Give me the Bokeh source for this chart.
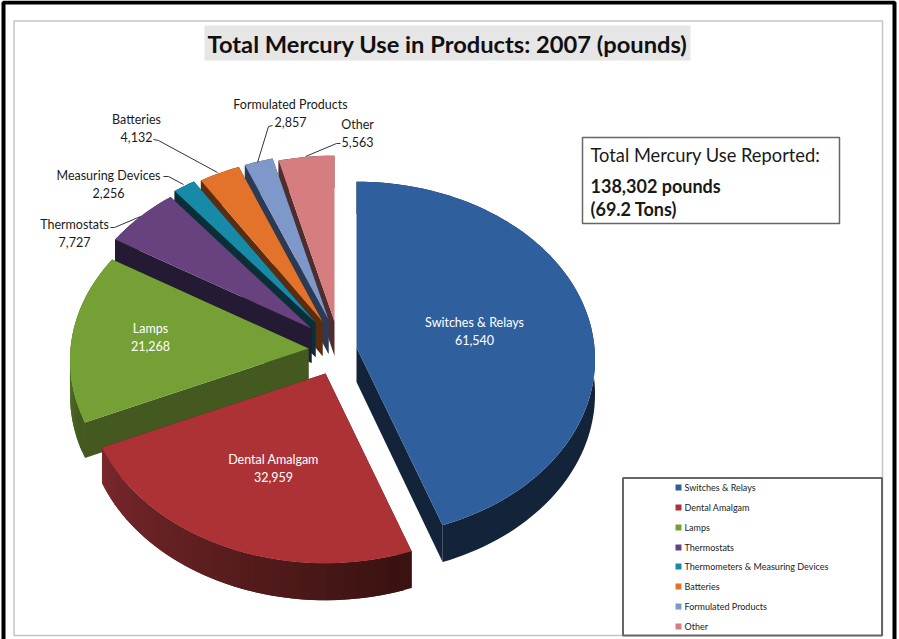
import numpy as np
from bokeh.plotting import figure
from bokeh.models import Range1d
from bokeh.core.properties import value
from bokeh.embed import file_html
from bokeh.resources import INLINE

# ---- data
categories = ["Switches & Relays", "Dental Amalgam", "Lamps", "Thermostats",
              "Measuring Devices", "Batteries", "Formulated Products", "Other"]
pounds = [61540, 32959, 21268, 7727, 2256, 4132, 2857, 5563]
legend_labels = ["Switches & Relays", "Dental Amalgam", "Lamps", "Thermostats",
                 "Thermometers & Measuring Devices", "Batteries", "Formulated Products", "Other"]
title_text = "Total Mercury Use in Products: 2007 (pounds)"
box_lines = ["Total Mercury Use Reported:", "138,302 pounds", "(69.2 Tons)"]

# ---- styles
top_colors = ["#305f9e", "#ad3236", "#74a035", "#68427f", "#168aa6", "#e3722a", "#7e99c9", "#d67d80"]
wall_colors = ["#12233a", "#3a1211", "#43591f", "#251a33", "#0a2f39", "#5a2d10", "#2c3a55", "#4f2d2f"]
rim_from = ["#12233a", "#3a1211", "#43591f", "#251a33", "#0a2f39", "#5a2d10", "#2c3a55", "#4f2d2f"]
rim_to = ["#12233a", "#7a282c", "#6f9a33", "#251a33", "#0a2f39", "#5a2d10", "#2c3a55", "#4f2d2f"]
# explosion: where each slice's point lands on the page
apex_x = [356, 325, 308, 311, 315, 322, 328, 334]
apex_y = [347, 373, 348, 328, 322, 321, 319, 321]
RX, RY, PERSP, DEPTH = 238.0, 177.0, 0.0673, 34.5
FONT = "Lato"


def hex_rgb(h):
    return np.array([int(h[i:i + 2], 16) for i in (1, 3, 5)], float)


def lerp(a, b, t):
    c = hex_rgb(a) * (1 - t) + hex_rgb(b) * t
    return "#%02x%02x%02x" % tuple(int(round(v)) for v in c)


def rim(theta, ax, ay):
    X, Y = np.sin(theta), -np.cos(theta)
    f = 1 / (1 - PERSP * Y)
    return ax + RX * X * f, ay + RY * Y * f, DEPTH * f


p = figure(width=899, height=639, x_range=Range1d(0, 899), y_range=Range1d(639, 0),
           x_axis_type=None, y_axis_type=None, toolbar_location=None,
           output_backend="svg", min_border=0, outline_line_color=None, margin=(0, 0, 0, 0))
p.grid.visible = False
p.background_fill_color = "white"
p.border_fill_color = "white"

# page frames
p.quad(left=[3], right=[894], top=[2], bottom=[700], fill_color=None, line_color="black", line_width=4)
p.quad(left=[13.5], right=[882], top=[20.5], bottom=[635], fill_color=None, line_color="#c4c4c4", line_width=1.5)

# title
p.quad(left=[204], right=[690], top=[25], bottom=[60], fill_color="#e6e6e6", line_color=None)
p.text(x=[447], y=[43], text=[title_text], text_font=value(FONT), text_font_style="bold",
       text_font_size="23.7px", text_align="center", text_baseline="middle", text_color="#101010")

# pie, from the values
vals = np.array(pounds, float)
edges = np.concatenate([[0], np.cumsum(vals)]) / vals.sum() * 2 * np.pi
for i in [7, 6, 5, 4, 3, 2, 1, 0]:
    a0, a1 = edges[i], edges[i + 1]
    n = max(8, int((a1 - a0) / 0.03))
    th = np.linspace(a0, a1, n)
    ax, ay = apex_x[i], apex_y[i]
    rx, ry, rd = rim(th, ax, ay)
    # radial walls
    for j in (0, -1):
        p.patch([ax, rx[j], rx[j], ax], [ay, ry[j], ry[j] + rd[j], ay + DEPTH],
                fill_color=wall_colors[i], line_color=None)
    # outer rim, strip by strip; each strip runs under the next so no seam shows
    if rim_from[i] == rim_to[i]:
        p.patch(np.concatenate([rx, rx[::-1]]), np.concatenate([ry, (ry + rd)[::-1]]),
                fill_color=rim_from[i], line_color=None)
    else:
        xs, ys, cols = [], [], []
        for k in range(n - 1):
            e = min(k + 2, n - 1)
            xs.append([rx[k], rx[e], rx[e], rx[k]])
            ys.append([ry[k], ry[e], ry[e] + rd[e], ry[k] + rd[k]])
            cols.append(lerp(rim_from[i], rim_to[i], k / max(1, n - 2)))
        order = list(range(n - 2, -1, -1))
        p.patches([xs[k] for k in order], [ys[k] for k in order],
                  fill_color=[cols[k] for k in order], line_color=None)
    # top face
    p.patch(np.concatenate([[ax], rx]), np.concatenate([[ay], ry]),
            fill_color=top_colors[i], line_color=None)

# labels inside slices
in_slice = {0: (474, 322), 1: (273, 459), 2: (150, 328)}
for i, (lx, ly) in in_slice.items():
    p.text(x=[lx, lx], y=[ly, ly + 17], text=[categories[i], f"{pounds[i]:,}"],
           text_font=value(FONT), text_font_size="12.5px", text_align="center",
           text_baseline="middle", text_color="white")

# labels outside, with leaders
outside = {3: (74, 224), 4: (108, 175), 5: (136, 119), 6: (290, 104), 7: (357, 124)}
for i, (lx, ly) in outside.items():
    p.text(x=[lx, lx], y=[ly, ly + 17], text=[categories[i], f"{pounds[i]:,}"],
           text_font=value(FONT), text_font_size="12.5px", text_align="center",
           text_baseline="middle", text_color="#1a1a1a")
leaders = [([110, 114, 140], [227, 227, 216]),
           ([163, 168, 183], [176, 176, 184]),
           ([153, 158, 217], [139, 140, 172]),
           ([272, 268, 257], [125, 126, 162]),
           ([340, 336, 305], [143, 143, 156])]
for lx, ly in leaders:
    p.line(lx, ly, line_color="#333333", line_width=1)

# reported box
p.quad(left=[582], right=[839], top=[137], bottom=[223], fill_color="white", line_color="#666666", line_width=1.5)
p.text(x=[590], y=[154], text=[box_lines[0]], text_font=value(FONT), text_font_size="18.3px",
       text_baseline="middle", text_color="#1a1a1a")
p.text(x=[590, 590], y=[185, 208], text=box_lines[1:], text_font=value(FONT), text_font_style="bold",
       text_font_size="18px", text_baseline="middle", text_color="#1a1a1a")

# legend
p.quad(left=[622.5], right=[881.5], top=[477.5], bottom=[635], fill_color="white", line_color="#666666", line_width=2)
leg_y = [487, 507, 527, 547, 566, 586, 606, 626]
p.rect(x=[678] * 8, y=leg_y, width=6, height=6, fill_color=top_colors, line_color=None)
p.text(x=[684] * 8, y=leg_y, text=legend_labels, text_font=value(FONT), text_font_size="9px",
       text_baseline="middle", text_color="#222222")

open("out.html", "w").write(file_html(p, INLINE))
